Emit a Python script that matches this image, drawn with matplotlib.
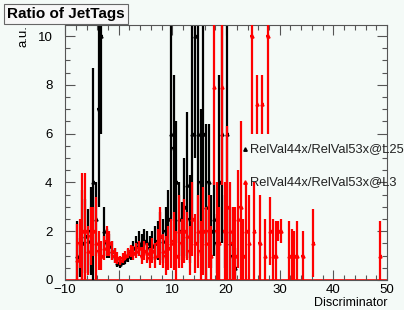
import numpy as np
import matplotlib.pyplot as plt
from matplotlib.ticker import MultipleLocator

# bin centres, width 0.5
black_x = np.arange(-7.75, 22.0, 0.5)
black_y = [1.0, 0.9, 1.5, 1.8, 1.6, 2.0, 4.0, 2.5, 7.0, 10.0,
           2.0, 1.5, 1.4, 1.2, 1.0, 0.7, 0.65, 0.75, 0.85, 1.0,
           1.1, 1.3, 1.4, 1.5, 1.4, 1.6, 1.5, 1.3, 1.4, 1.5,
           1.6, 1.8, 1.6, 2.0, 2.5, 6.0, 5.4, 4.0, 2.5, 2.0,
           3.0, 3.9, 2.5, 6.0, 10.0, 6.0, 4.0, 6.0, 3.0, 4.0,
           2.0, 2.5, 1.5, 4.0, 6.0, 2.0, 6.0, 1.5, 1.0, 0.5]
black_err = [1.4, 0.8, 2.2, 1.5, 1.3, 1.8, 4.7, 1.5, 4.0, 4.0,
             1.0, 0.6, 0.5, 0.4, 0.3, 0.15, 0.15, 0.15, 0.2, 0.25,
             0.3, 0.3, 0.4, 0.5, 0.5, 0.5, 0.5, 0.5, 0.6, 0.7,
             0.8, 1.0, 0.9, 1.0, 1.2, 4.5, 3.0, 2.5, 1.5, 1.2,
             2.0, 3.0, 1.8, 4.5, 5.0, 4.5, 3.0, 4.5, 3.4, 2.4,
             1.5, 1.5, 1.2, 4.4, 4.5, 1.5, 4.5, 1.5, 1.0, 0.8]

red_x = np.arange(-7.75, 29.0, 0.5)
red_y = [0.8, 1.5, 2.0, 2.0, 1.2, 1.8, 2.0, 1.5, 1.2, 1.0,
         1.3, 1.6, 1.5, 1.2, 1.0, 0.9, 0.8, 0.9, 1.0, 1.1,
         1.2, 1.1, 1.2, 1.3, 1.0, 1.2, 1.1, 0.9, 1.2, 1.0,
         1.5, 1.8, 1.2, 1.0, 1.3, 1.5, 1.6, 1.0, 2.0, 1.5,
         2.0, 1.8, 1.2, 2.5, 1.5, 2.0, 1.2, 2.0, 1.5, 2.0,
         1.0, 7.9, 2.0, 1.5, 7.9, 2.0, 3.0, 2.0, 1.5, 1.0,
         2.5, 3.0, 1.0, 2.0, 1.5, 10.0, 2.0, 7.2, 1.5, 7.2,
         1.0, 10.0, 2.0, 1.0]
red_err = [1.5, 1.0, 2.4, 2.4, 1.0, 1.2, 1.0, 1.9, 0.8, 0.6,
           0.5, 0.6, 0.5, 0.4, 0.3, 0.25, 0.2, 0.2, 0.2, 0.2,
           0.25, 0.3, 0.3, 0.3, 0.35, 0.4, 0.4, 0.4, 0.5, 0.5,
           0.6, 1.2, 0.7, 0.8, 0.9, 1.0, 1.2, 1.0, 1.5, 1.0,
           1.3, 1.0, 1.0, 1.5, 1.2, 1.5, 1.2, 1.8, 1.5, 1.5,
           1.2, 4.0, 2.0, 1.5, 4.0, 2.0, 3.3, 2.0, 1.5, 2.0,
           2.0, 3.5, 1.5, 2.0, 2.0, 4.0, 2.0, 1.2, 2.0, 1.2,
           1.5, 4.0, 1.4, 1.5]
# sparse tail of the red histogram
red_tail_x = [29.25, 29.75, 30.25, 31.75, 32.25, 32.75, 33.25, 34.25, 36.25, 48.75]
red_tail_y = [1.0, 2.0, 2.0, 1.0, 1.0, 1.0, 1.0, 1.0, 1.5, 1.0]
red_tail_err = [1.4, 0.4, 0.5, 1.4, 1.1, 1.0, 1.4, 1.0, 1.4, 1.4]

labels = ['RelVal44x/RelVal53x@L25', 'RelVal44x/RelVal53x@L3']

bg = '#f4faf7'
plt.rcParams['font.family'] = ['Liberation Sans', 'DejaVu Sans']

fig = plt.figure(figsize=(4.04, 3.10), dpi=100, facecolor=bg)
ax = fig.add_axes([0.161, 0.097, 0.797, 0.822], facecolor=bg)

ax.axhline(0, color='red', lw=1.2, zorder=1)
eb = dict(fmt='^', ms=2.2, xerr=0.25, elinewidth=1.6, capsize=0)
ax.errorbar(black_x, black_y, yerr=black_err, color='black', zorder=2, **eb)
ax.errorbar(red_x, red_y, yerr=red_err, color='red', zorder=3, **eb)
ax.errorbar(red_tail_x, red_tail_y, yerr=red_tail_err, color='red', zorder=3, **eb)

ax.set_xlim(-10, 50)
ax.set_ylim(0, 10.45)
ax.xaxis.set_major_locator(MultipleLocator(10))
ax.xaxis.set_minor_locator(MultipleLocator(2))
ax.yaxis.set_major_locator(MultipleLocator(2))
ax.yaxis.set_minor_locator(MultipleLocator(0.5))
ax.tick_params(which='both', direction='in', top=True, right=True,
               labelsize=9.5, color='#555555', width=0.8)
ax.tick_params(which='major', length=7)
ax.tick_params(which='minor', length=3.5)
ax.tick_params(axis='x', pad=3)
ax.tick_params(axis='y', pad=9)
for s in ax.spines.values():
    s.set_color('#555555')
    s.set_linewidth(0.8)

ax.set_xlabel('Discriminator', fontsize=9, loc='right', labelpad=1)
ax.set_ylabel('a.u.', fontsize=9.5, loc='top', labelpad=6)

# legend entries as plain text with markers
for i, (lab, col) in enumerate(zip(labels, ['black', 'red'])):
    yy = 5.37 - i * 1.37
    ax.plot([23.6], [yy], marker='^', ms=2.5, color=col, ls='none', zorder=5)
    ax.text(24.4, yy, lab, fontsize=9.3, va='center', ha='left', zorder=5,
            color='#222222')

fig.text(0.018, 0.955, 'Ratio of JetTags', fontsize=11, fontweight='bold',
         va='center', ha='left',
         bbox=dict(boxstyle='square,pad=0.22', facecolor='#f7f7f7',
                   edgecolor='#666666', linewidth=0.8))

fig.savefig('out.png', dpi=100, facecolor=bg)
